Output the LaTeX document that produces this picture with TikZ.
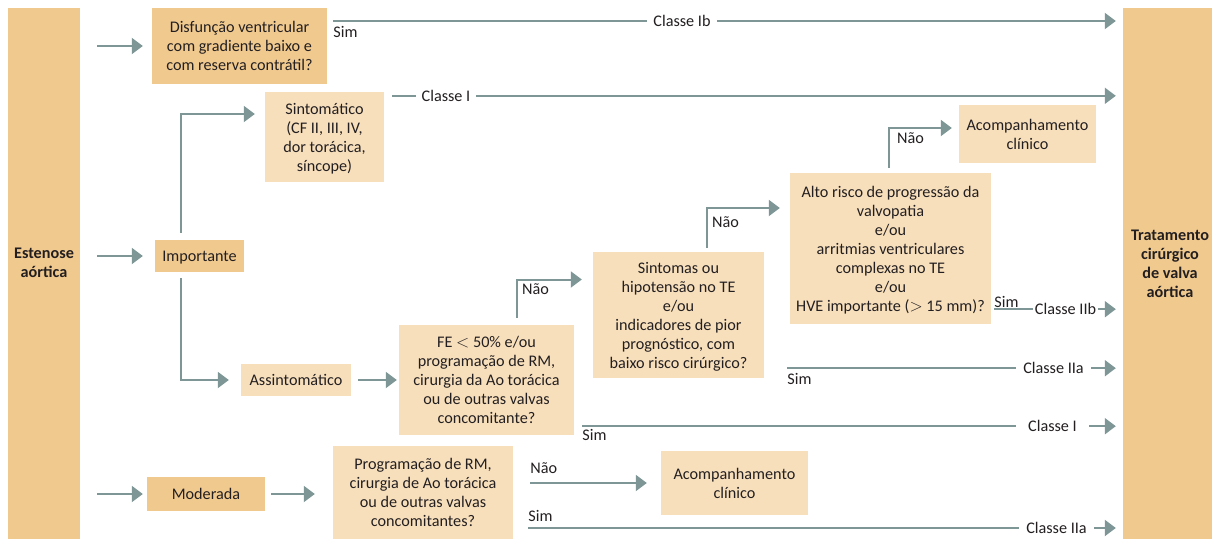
\documentclass[tikz,border=0pt]{standalone}
\usepackage{fontspec}
\setmainfont{Carlito}
\usetikzlibrary{arrows.meta}
\definecolor{boxdark}{HTML}{F0C98F}
\definecolor{boxlight}{HTML}{F7DFBC}
\definecolor{flow}{HTML}{7F9696}
\definecolor{ink}{HTML}{231F20}
\begin{document}
\begin{tikzpicture}[x=1pt,y=-1pt,
  font=\fontsize{16.2}{19}\selectfont, text=ink,
  darkbox/.style={fill=boxdark, draw=none, inner sep=0pt, align=center, text depth=-1.5pt},
  lightbox/.style={fill=boxlight, draw=none, inner sep=0pt, align=center, text depth=-1.5pt},
  bartext/.style={font=\fontsize{16.2}{19}\selectfont\bfseries, align=center, inner sep=0pt},
  flowline/.style={draw=flow, line width=2pt},
  flowarrow/.style={flowline, -{Triangle[length=11pt,width=16pt]}},
  tag/.style={fill=white, inner sep=0pt, inner xsep=6pt},
  yn/.style={inner sep=0pt}]
\useasboundingbox (0,0) rectangle (1212,539);

% side bars
\node[darkbox, minimum width=72, minimum height=531] (ea) at (44,273.5) {};
\node[bartext] (eatxt) at (44,263) {Estenose\\aórtica};
\node[darkbox, minimum width=89, minimum height=531] (tr) at (1167.5,273.5) {};
\node[bartext] (trtxt) at (1170,264) {Tratamento\\cirúrgico\\de valva\\aórtica};

% decision and state boxes
\node[darkbox, minimum width=175, minimum height=76] (q1) at (239.5,46)
  {Disfunção ventricular\\com gradiente baixo e\\com reserva contrátil?};
\node[lightbox, minimum width=119, minimum height=90] (sint) at (324.5,137)
  {Sintomático\\(CF II, III, IV,\\dor torácica,\\síncope)};
\node[darkbox, minimum width=89, minimum height=32] (imp) at (199.5,256) {Importante};
\node[lightbox, minimum width=110, minimum height=32] (ass) at (296,380) {Assintomático};
\node[lightbox, minimum width=175, minimum height=110] (fe) at (486.5,380)
  {FE $<$ 50\% e/ou\\programação de RM,\\cirurgia da Ao torácica\\ou de outras valvas\\concomitante?};
\node[lightbox, minimum width=171, minimum height=126] (sq) at (678.5,315)
  {Sintomas ou\\hipotensão no TE\\e/ou\\indicadores de pior\\prognóstico, com\\baixo risco cirúrgico?};
\node[lightbox, minimum width=201, minimum height=151] (alto) at (890.5,248.5)
  {Alto risco de progressão da\\valvopatia\\e/ou\\arritmias ventriculares\\complexas no TE\\e/ou\\HVE importante ($>$ 15 mm)?};
\node[lightbox, minimum width=137, minimum height=58] (ac1) at (1027.5,134)
  {Acompanhamento\\clínico};
\node[darkbox, minimum width=118, minimum height=34] (mod) at (206,494) {Moderada};
\node[lightbox, minimum width=180, minimum height=93] (prog) at (423,492.5)
  {Programação de RM,\\cirurgia de Ao torácica\\ou de outras valvas\\concomitantes?};
\node[lightbox, minimum width=147, minimum height=64] (ac2) at (734.5,483)
  {Acompanhamento\\clínico};

% entry arrows
\draw[flowarrow, shorten <=17pt, shorten >=9pt] (ea.east |- q1) -- (q1);
\draw[flowarrow, shorten <=17pt, shorten >=12pt] (ea.east |- imp) -- (imp);
\draw[flowarrow, shorten <=17pt, shorten >=4pt] (ea.east |- mod) -- (mod);
\draw[flowarrow, shorten <=6pt, shorten >=18pt] (mod.east) -- (mod.east -| prog.west);

% branches from "Importante"
\draw[flowarrow, shorten >=10pt] ([shift={(26,-7)}]imp.north west) |- ([yshift=23pt]sint.west);
\draw[flowarrow, shorten >=12pt] ([shift={(26,6)}]imp.south west) |- (ass.west);
\draw[flowarrow, shorten <=7pt, shorten >=2pt] (ass) -- (fe);

% "Não" branches
\draw[flowarrow, shorten >=11pt] ([shift={(118,-7)}]fe.north west) |- ([yshift=35.5pt]sq.west);
\node[yn, anchor=west] (n1) at (522,289) {Não};
\draw[flowarrow, shorten >=10pt] ([shift={(114,-4)}]sq.north west) |- ([yshift=40.5pt]alto.west);
\node[yn, anchor=west] (n2) at (712,222) {Não};
\draw[flowarrow, shorten >=7pt] ([shift={(99,-5)}]alto.north west) |- ([yshift=6pt]ac1.west);
\node[yn, anchor=west] (n3) at (897,138) {Não};
\coordinate (mn) at ([shift={(17,-9.5)}]prog.east);
\draw[flowarrow, shorten >=14pt] (mn) -- (mn -| ac2.west);
\node[yn, anchor=south west] (n4) at ([yshift=9pt]mn) {Não};

% "Sim" branches into surgical treatment
\coordinate (s1) at ([shift={(6,-25)}]q1.east);
\draw[flowarrow, shorten >=7pt] (s1) -- (s1 -| tr.west);
\node[tag] (c1) at (682,21) {Classe Ib};
\node[yn, anchor=north west] (y1) at ([yshift=-5pt]s1) {Sim};

\coordinate (s2) at ([shift={(8,4)}]sint.north east);
\draw[flowarrow, shorten >=7pt] (s2) -- (s2 -| tr.west);
\node[tag] (c2) at (446,96) {Classe I};

\coordinate (s3) at ([shift={(3,-15)}]alto.south east);
\draw[flowarrow, shorten >=7pt] (s3) -- (s3 -| tr.west);
\node[tag, inner xsep=2pt] (c3) at (1065.5,309) {Classe IIb};
\node[yn, anchor=south west] (y3) at ([yshift=1pt]s3) {Sim};

\coordinate (s4) at ([shift={(23,-10)}]sq.south east);
\draw[flowarrow, shorten >=7pt] (s4) -- (s4 -| tr.west);
\node[tag, inner xsep=7pt] (c4) at (1053.5,368) {Classe IIa};
\node[yn, anchor=north west] (y4) at ([yshift=-5pt]s4) {Sim};

\coordinate (s5) at ([shift={(8,-9)}]fe.south east);
\draw[flowarrow, shorten >=7pt] (s5) -- (s5 -| tr.west);
\node[tag, inner xsep=12pt] (c5) at (1052.5,426) {Classe I};
\node[yn, anchor=north west] (y5) at ([yshift=-3pt]s5) {Sim};

\coordinate (s6) at ([shift={(15,35.5)}]prog.east);
\draw[flowarrow, shorten >=7pt] (s6) -- (s6 -| tr.west);
\node[tag, inner xsep=7pt] (c6) at (1056.5,528) {Classe IIa};
\node[yn, anchor=south west] (y6) at ([yshift=6pt]s6) {Sim};
\end{tikzpicture}
\end{document}
